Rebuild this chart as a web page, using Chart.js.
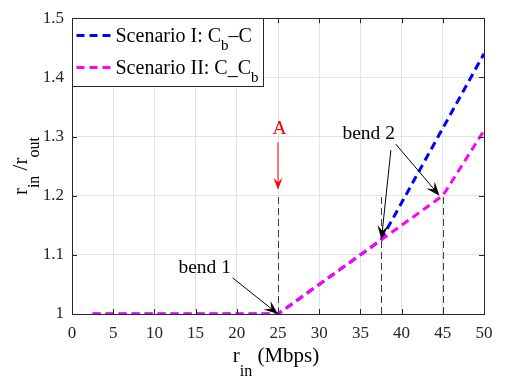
<!DOCTYPE html>
<html lang="en">
<head>
<meta charset="UTF-8">
<title>r_in / r_out vs r_in</title>
<script src="https://cdn.jsdelivr.net/npm/chart.js"></script>
<style>
    body { margin: 0; background: #fff; }
    #wrap { width: 515px; height: 381px; }
</style>
</head>
<body>
<div id="wrap"><canvas id="grafico" width="515" height="381"></canvas></div>
<script>
// data
var rIn        = [2.5, 5, 7.5, 10, 12.5, 15, 17.5, 20, 22.5, 25, 27.5, 30, 32.5, 35, 37.5, 40, 42.5, 45, 47.5, 50];
var scenarioI  = [1, 1, 1, 1, 1, 1, 1, 1, 1, 1, 1.025, 1.05, 1.075, 1.1, 1.125, 1.188, 1.251, 1.314, 1.377, 1.44];
var scenarioII = [1, 1, 1, 1, 1, 1, 1, 1, 1, 1, 1.025, 1.05, 1.075, 1.1, 1.125, 1.15, 1.175, 1.2, 1.255, 1.31];
var xTicks = [0, 5, 10, 15, 20, 25, 30, 35, 40, 45, 50];
var yTicks = [1, 1.1, 1.2, 1.3, 1.4, 1.5];
var bendX  = [25, 37.5, 45];
var bendY  = [1.2, 1.2, 1.2];

var serif = "'Liberation Serif', 'Times New Roman', serif";
var azul = '#0000ff';
var magenta = '#ff00ff';

function pontos(ys) {
    return rIn.map(function (x, i) { return { x: x, y: ys[i] }; });
}

// draws "r" + sub "in" style text, parts = [[text, isSub], ...]
function textoSub(ctx, parts, x, y, size, subSize, subDrop) {
    var cx = x;
    parts.forEach(function (p) {
        ctx.font = (p[1] ? subSize : size) + 'px ' + serif;
        ctx.fillText(p[0], cx, p[1] ? y + subDrop : y);
        cx += ctx.measureText(p[0]).width;
    });
    return cx - x;
}
function larguraSub(ctx, parts, size, subSize) {
    var w = 0;
    parts.forEach(function (p) {
        ctx.font = (p[1] ? subSize : size) + 'px ' + serif;
        w += ctx.measureText(p[0]).width;
    });
    return w;
}

function seta(ctx, x1, y1, x2, y2, cor, comp, larg) {
    var ang = Math.atan2(y2 - y1, x2 - x1);
    ctx.save();
    ctx.strokeStyle = cor;
    ctx.fillStyle = cor;
    ctx.lineWidth = 1;
    ctx.setLineDash([]);
    ctx.beginPath();
    ctx.moveTo(x1, y1);
    ctx.lineTo(x2 - Math.cos(ang) * comp * 0.6, y2 - Math.sin(ang) * comp * 0.6);
    ctx.stroke();
    ctx.translate(x2, y2);
    ctx.rotate(ang);
    ctx.beginPath();
    ctx.moveTo(0, 0);
    ctx.lineTo(-comp, -larg / 2);
    ctx.lineTo(-comp * 0.6, 0);
    ctx.lineTo(-comp, larg / 2);
    ctx.closePath();
    ctx.fill();
    ctx.restore();
}

var extras = {
    id: 'extras',
    beforeDatasetsDraw: function (chart) {
        var ctx = chart.ctx, xs = chart.scales.x, ys = chart.scales.y;
        ctx.save();
        ctx.strokeStyle = '#404040';
        ctx.lineWidth = 1;
        ctx.setLineDash([7, 4]);
        bendX.forEach(function (bx, i) {
            var px = Math.round(xs.getPixelForValue(bx)) + 0.5;
            ctx.beginPath();
            ctx.moveTo(px, ys.getPixelForValue(1));
            ctx.lineTo(px, ys.getPixelForValue(bendY[i]));
            ctx.stroke();
        });
        ctx.restore();
    },
    afterDraw: function (chart) {
        var ctx = chart.ctx, a = chart.chartArea, xs = chart.scales.x, ys = chart.scales.y;
        ctx.save();
        // inward ticks on all sides
        ctx.strokeStyle = '#262626';
        ctx.lineWidth = 1;
        ctx.beginPath();
        xTicks.forEach(function (v) {
            var px = Math.round(xs.getPixelForValue(v)) + 0.5;
            ctx.moveTo(px, a.bottom); ctx.lineTo(px, a.bottom - 5);
            ctx.moveTo(px, a.top); ctx.lineTo(px, a.top + 5);
        });
        yTicks.forEach(function (v) {
            var py = Math.round(ys.getPixelForValue(v)) + 0.5;
            ctx.moveTo(a.left, py); ctx.lineTo(a.left + 5, py);
            ctx.moveTo(a.right, py); ctx.lineTo(a.right - 5, py);
        });
        ctx.stroke();
        ctx.strokeStyle = '#262626';
        ctx.strokeRect(Math.round(a.left) + 0.5, Math.round(a.top) + 0.5,
                       Math.round(a.right - a.left), Math.round(a.bottom - a.top));

        // annotations
        ctx.fillStyle = '#000';
        ctx.textAlign = 'center';
        ctx.textBaseline = 'middle';
        ctx.font = '19.5px ' + serif;
        ctx.fillText('bend 1', xs.getPixelForValue(16.1), ys.getPixelForValue(1.078));
        ctx.fillText('bend 2', xs.getPixelForValue(36.0), ys.getPixelForValue(1.305));
        seta(ctx, xs.getPixelForValue(19.5), ys.getPixelForValue(1.061),
             xs.getPixelForValue(25), ys.getPixelForValue(1), '#000', 14, 11);
        seta(ctx, xs.getPixelForValue(38.7), ys.getPixelForValue(1.277),
             xs.getPixelForValue(37.55), ys.getPixelForValue(1.126), '#000', 14, 11);
        seta(ctx, xs.getPixelForValue(39.3), ys.getPixelForValue(1.287),
             xs.getPixelForValue(44.6), ys.getPixelForValue(1.2), '#000', 14, 11);
        ctx.fillStyle = '#ff0000';
        ctx.textBaseline = 'alphabetic';
        ctx.fillText('A', xs.getPixelForValue(25.2), ys.getPixelForValue(1.304));
        seta(ctx, xs.getPixelForValue(25), ys.getPixelForValue(1.29),
             xs.getPixelForValue(25), ys.getPixelForValue(1.21), '#ff0000', 12, 9);

        // legend
        var lx = Math.round(a.left) + 0.5, ly = Math.round(a.top) + 0.5;
        ctx.fillStyle = '#fff';
        ctx.fillRect(lx, ly, 191, 68);
        ctx.strokeStyle = '#262626';
        ctx.strokeRect(lx, ly, 191, 68);
        var legenda = [
            [azul, [['Scenario I: C', false], ['b', true], ['\u2013C', false]]],
            [magenta, [['Scenario II: C_C', false], ['b', true]]]
        ];
        legenda.forEach(function (item, i) {
            var yy = ly + 17 + i * 32;
            ctx.strokeStyle = item[0];
            ctx.lineWidth = 3;
            ctx.setLineDash([8, 5]);
            ctx.beginPath();
            ctx.moveTo(lx + 4, yy); ctx.lineTo(lx + 41, yy);
            ctx.stroke();
            ctx.setLineDash([]);
            ctx.fillStyle = '#000';
            ctx.textAlign = 'left';
            ctx.textBaseline = 'alphabetic';
            textoSub(ctx, item[1], lx + 43, yy + 6, 20, 15, 8);
        });

        // axis titles
        ctx.fillStyle = '#000';
        ctx.textAlign = 'left';
        var xt = [['r', false], ['in', true], [' (Mbps)', false]];
        var wx = larguraSub(ctx, xt, 21, 16);
        textoSub(ctx, xt, (a.left + a.right) / 2 - wx / 2 - 2, 362, 21, 16, 14);

        var yt = [['r', false], ['in', true], [' /r', false], ['out', true]];
        var wy = larguraSub(ctx, yt, 21, 16);
        ctx.translate(27, (a.top + a.bottom) / 2);
        ctx.rotate(-Math.PI / 2);
        textoSub(ctx, yt, -wy / 2, 0, 21, 16, 12);
        ctx.restore();
    }
};

var ctx = document.getElementById('grafico').getContext('2d');
new Chart(ctx, {
    type: 'line',
    data: {
        datasets: [
            {
                label: 'Scenario I',
                data: pontos(scenarioI),
                borderColor: azul,
                borderWidth: 3,
                borderDash: [8, 5],
                pointRadius: 0,
                fill: false,
                order: 1
            },
            {
                label: 'Scenario II',
                data: pontos(scenarioII),
                borderColor: magenta,
                borderWidth: 3,
                borderDash: [8, 5],
                pointRadius: 0,
                fill: false,
                order: 0
            }
        ]
    },
    options: {
        responsive: false,
        animation: false,
        devicePixelRatio: 1,
        layout: { padding: { left: 0, right: 31, top: 12, bottom: 0 } },
        plugins: { legend: { display: false }, tooltip: { enabled: false } },
        scales: {
            x: {
                type: 'linear',
                min: 0, max: 50,
                afterBuildTicks: function (s) { s.ticks = xTicks.map(function (v) { return { value: v }; }); },
                afterFit: function (s) { s.height = 67; },
                ticks: { color: '#262626', font: { family: serif, size: 17 }, padding: 9, maxRotation: 0 },
                grid: { color: '#e3e3e3', drawTicks: false },
                border: { display: false }
            },
            y: {
                min: 1, max: 1.5,
                afterBuildTicks: function (s) { s.ticks = yTicks.map(function (v) { return { value: v }; }); },
                afterFit: function (s) { s.width = 72; },
                ticks: {
                    color: '#262626', font: { family: serif, size: 17 }, padding: 8,
                    callback: function (v) { return String(Math.round(v * 10) / 10); }
                },
                grid: { color: '#e3e3e3', drawTicks: false },
                border: { display: false }
            }
        }
    },
    plugins: [extras]
});
</script>
</body>
</html>
